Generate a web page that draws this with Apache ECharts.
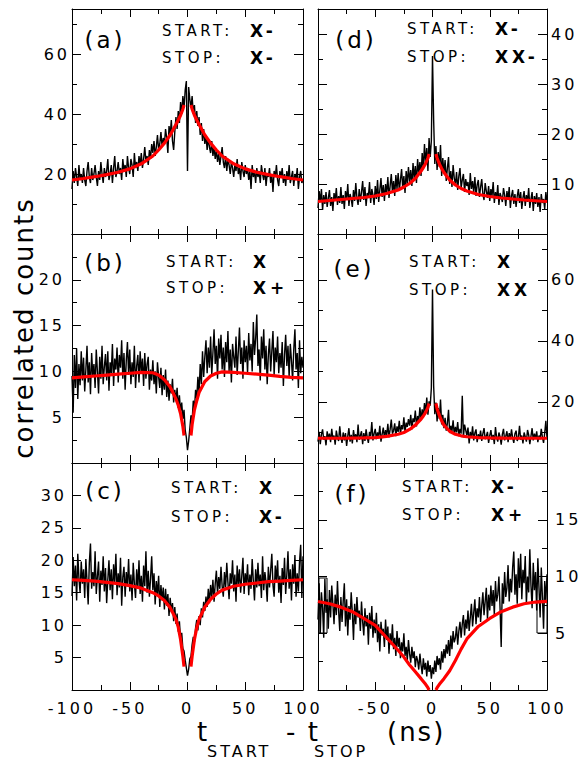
<!DOCTYPE html>
<html>
<head>
<meta charset="utf-8">
<title>correlated counts</title>
<script src="https://cdn.jsdelivr.net/npm/echarts@6.0.0/dist/echarts.min.js"></script>
<style>
  html, body { margin: 0; padding: 0; background: #fff; }
  #chart { width: 580px; height: 762px; }
  /* the original export uses a very wide face, spacing the glyphs out comes closest */
  #chart text { letter-spacing: 3px; }
  #chart text[style*="15px"] { letter-spacing: 3.5px; }
  #chart text[style*="17px"] { letter-spacing: 4px; }
  #chart text[style*="26px"] { letter-spacing: 2px; }
</style>
</head>
<body>
<div id="chart"></div>
<script>
// histogram bins: 1 ns wide, first bin at -100 ns
const binStart = -100

// (a) START X-, STOP X-
const countsA = [
  15, 21, 17, 22, 19, 16, 23, 18, 20, 17,
  22, 18, 16, 21, 24, 19, 17, 22, 18, 20,
  23, 19, 16, 21, 18, 24, 20, 17, 22, 19,
  21, 25, 18, 20, 23, 17, 22, 26, 19, 21,
  24, 20, 22, 18, 25, 21, 23, 19, 26, 22,
  20, 25, 23, 19, 27, 22, 24, 21, 26, 23,
  27, 22, 25, 29, 24, 26, 23, 28, 25, 30,
  27, 31, 26, 29, 33, 28, 30, 34, 29, 32,
  30, 35, 32, 27, 36, 33, 38, 31, 28, 34,
  39, 35, 41, 37, 44, 40, 46, 42, 48, 51,
  21,
  49, 45, 42, 46, 40, 43, 37, 41, 36, 39,
  33, 37, 31, 35, 30, 33, 28, 32, 29, 27,
  31, 26, 29, 25, 28, 24, 27, 23, 26, 29,
  24, 22, 26, 21, 25, 23, 20, 24, 22, 19,
  23, 21, 25, 20, 22, 18, 24, 21, 19, 23,
  20, 22, 18, 21, 15, 23, 19, 21, 17, 22,
  19, 21, 17, 23, 20, 18, 22, 16, 20, 19,
  22, 17, 20, 14, 21, 19, 23, 18, 16, 21,
  19, 22, 17, 20, 16, 21, 18, 23, 17, 19,
  21, 16, 20, 18, 22, 15, 19, 21, 17, 18,
]

// (b) START X, STOP X+
const countsB = [
  9.5, 5.5, 11.8, 8.2, 12.5, 7.0, 10.8, 8.5, 12.2, 9.0,
  11.5, 7.8, 10.2, 12.8, 8.8, 11.0, 7.5, 12.0, 9.5, 10.8,
  8.2, 12.4, 10.0, 7.6, 11.6, 9.2, 12.8, 8.6, 10.5, 11.9,
  9.0, 12.2, 7.9, 11.0, 9.8, 13.0, 8.4, 11.4, 10.2, 12.6,
  8.8, 11.8, 10.4, 13.4, 9.2, 12.0, 8.0, 11.2, 13.2, 9.6,
  12.4, 8.6, 11.0, 9.4, 12.8, 8.2, 10.6, 11.8, 8.8, 12.2,
  9.8, 11.4, 8.4, 12.0, 9.2, 10.8, 11.6, 8.0, 10.2, 9.0,
  11.2, 8.6, 10.0, 7.6, 11.0, 9.4, 8.2, 10.4, 7.4, 9.6,
  8.0, 10.2, 7.2, 9.0, 6.8, 8.6, 7.6, 9.2, 6.6, 8.0,
  6.8, 8.2, 6.0, 7.4, 5.6, 6.6, 4.8, 5.8, 3.6, 2.8,
  1.4,
  2.4, 3.8, 5.2, 4.6, 6.8, 5.8, 8.0, 7.0, 9.4, 7.6,
  10.8, 8.6, 12.2, 9.4, 11.6, 13.4, 9.8, 12.6, 10.4, 13.8,
  9.6, 12.0, 14.6, 10.8, 12.8, 9.2, 13.6, 11.4, 14.0, 10.2,
  12.6, 9.4, 13.2, 11.0, 14.4, 10.0, 12.4, 8.8, 13.0, 11.6,
  10.4, 13.8, 9.6, 12.2, 14.8, 10.8, 12.6, 9.2, 13.4, 11.0,
  12.8, 9.8, 14.2, 11.2, 13.0, 10.0, 15.4, 11.8, 13.6, 16.2,
  10.6, 12.4, 9.0, 13.8, 11.4, 14.6, 10.2, 12.8, 8.6, 11.8,
  13.6, 10.0, 12.2, 14.4, 9.6, 12.6, 11.0, 13.8, 9.8, 12.0,
  10.4, 13.2, 8.4, 11.8, 14.0, 10.6, 12.8, 9.4, 13.0, 11.2,
  9.0, 12.4, 14.6, 10.2, 12.0, 8.2, 13.4, 9.8, 11.6, 10.4,
]

// (c) START X, STOP X-
const countsC = [
  14.5, 20.5, 16.0, 19.2, 13.8, 21.0, 17.2, 15.0, 19.8, 16.4,
  18.6, 14.2, 20.2, 16.8, 13.2, 19.6, 22.6, 15.6, 18.2, 16.0,
  21.4, 14.8, 17.6, 19.8, 13.6, 18.4, 16.2, 20.6, 15.2, 18.8,
  13.4, 17.0, 20.0, 15.4, 18.6, 14.0, 19.4, 16.6, 21.0, 14.6,
  18.0, 15.8, 20.4, 13.0, 17.4, 19.0, 14.4, 18.2, 16.0, 20.2,
  15.2, 17.8, 13.8, 19.6, 16.4, 14.2, 18.6, 15.6, 20.0, 14.8,
  17.6, 13.6, 19.2, 16.0, 21.4, 15.0, 18.4, 14.4, 17.2, 20.6,
  15.4, 18.0, 13.2, 16.8, 14.6, 17.6, 12.8, 16.2, 13.8, 15.8,
  12.4, 15.6, 13.0, 14.8, 11.4, 14.2, 12.0, 13.4, 10.6, 12.8,
  10.2, 11.8, 9.0, 10.6, 7.8, 8.8, 6.4, 6.0, 4.6, 3.4,
  2.2,
  3.2, 4.8, 5.2, 7.0, 8.2, 7.4, 9.6, 10.8, 9.2, 11.4,
  10.0, 12.6, 11.2, 13.6, 12.2, 14.4, 12.8, 15.6, 13.4, 16.2,
  14.2, 17.0, 13.6, 16.4, 18.4, 14.8, 17.4, 15.6, 19.0, 16.0,
  14.4, 18.2, 15.8, 19.6, 16.6, 14.0, 18.0, 16.4, 20.0, 15.2,
  17.8, 13.6, 19.2, 16.2, 18.6, 15.0, 17.6, 20.4, 14.8, 18.0,
  16.4, 19.4, 14.6, 17.8, 15.6, 20.2, 16.8, 13.8, 18.6, 15.8,
  19.6, 16.0, 17.8, 14.2, 20.6, 15.4, 18.2, 16.6, 13.6, 19.0,
  15.8, 18.4, 21.0, 16.2, 14.4, 19.2, 16.8, 20.0, 15.0, 17.6,
  13.4, 18.8, 16.2, 20.4, 14.8, 17.8, 21.4, 15.6, 18.6, 13.8,
  19.4, 16.4, 20.8, 14.4, 18.0, 15.2, 19.8, 22.4, 14.2, 20.6,
]

// (d) START X-, STOP XX-
const countsD = [
  5.2, 8.6, 6.4, 9.0, 4.8, 7.8, 6.0, 8.4, 5.4, 7.2,
  8.8, 5.6, 7.4, 4.6, 8.2, 6.6, 9.2, 5.8, 7.6, 6.2,
  9.4, 6.0, 7.8, 5.0, 8.6, 6.8, 10.0, 5.6, 8.0, 7.0,
  5.4, 8.8, 6.6, 10.2, 7.2, 5.8, 9.0, 6.4, 8.4, 10.6,
  6.8, 9.4, 5.6, 8.2, 7.4, 10.4, 6.2, 9.0, 7.8, 5.8,
  9.6, 7.0, 10.8, 6.4, 8.8, 11.2, 7.4, 9.8, 6.6, 10.0,
  8.0, 11.4, 7.2, 9.6, 12.0, 8.4, 10.6, 7.6, 11.8, 9.0,
  12.2, 8.6, 10.8, 13.0, 9.2, 11.6, 8.2, 12.6, 10.0, 13.4,
  10.4, 12.8, 9.6, 14.2, 11.0, 13.6, 10.2, 15.0, 12.0, 14.4,
  11.6, 16.2, 13.0, 18.0, 14.0, 17.2, 12.6, 19.2, 15.4, 18.6,
  35.6,
  22.8, 14.0, 17.6, 12.8, 16.4, 13.4, 17.8, 11.6, 15.2, 12.0,
  14.8, 10.6, 13.2, 15.4, 10.0, 12.6, 9.4, 13.8, 11.2, 9.8,
  12.4, 8.8, 11.6, 13.2, 9.2, 10.8, 12.0, 8.4, 11.0, 9.6,
  10.4, 7.8, 12.2, 9.0, 10.6, 8.2, 11.4, 7.6, 9.8, 10.8,
  7.4, 9.4, 11.0, 8.0, 6.8, 10.2, 8.6, 7.2, 9.6, 6.6,
  9.0, 7.6, 10.4, 6.2, 8.4, 7.0, 9.8, 5.8, 8.2, 7.4,
  6.4, 9.2, 7.8, 5.6, 8.6, 6.8, 9.4, 5.2, 7.6, 8.8,
  6.0, 8.0, 5.4, 7.6, 9.0, 6.2, 8.4, 5.0, 7.2, 8.6,
  5.6, 7.8, 6.4, 9.2, 5.2, 7.0, 8.4, 4.6, 7.6, 6.0,
  8.2, 5.4, 7.4, 4.4, 8.0, 6.2, 7.0, 5.0, 8.4, 6.4,
]

// (e) START X, STOP XX
const countsE = [
  7.0, 10.2, 6.2, 9.4, 11.0, 7.6, 8.8, 5.8, 10.4, 8.0,
  9.6, 6.8, 11.2, 7.8, 9.0, 6.0, 10.6, 8.4, 7.2, 12.0,
  8.2, 6.6, 10.0, 7.4, 9.8, 5.6, 8.8, 11.4, 7.0, 9.2,
  6.4, 10.8, 8.0, 9.4, 6.8, 12.6, 7.6, 9.0, 10.4, 6.2,
  9.8, 7.2, 11.0, 8.4, 6.6, 10.2, 8.8, 13.4, 7.4, 9.6,
  11.2, 7.8, 10.0, 8.6, 12.2, 7.0, 9.4, 11.6, 8.2, 10.8,
  9.0, 12.8, 8.4, 11.0, 14.2, 9.6, 10.6, 13.0, 8.8, 12.0,
  10.2, 13.8, 9.4, 12.4, 11.0, 15.0, 10.0, 13.2, 11.8, 14.4,
  12.2, 15.8, 11.0, 14.6, 13.4, 17.2, 12.0, 15.4, 13.6, 18.2,
  14.0, 17.6, 15.2, 19.6, 16.4, 21.4, 15.8, 20.2, 18.8, 24.6,
  56.8,
  25.2, 16.0, 19.8, 13.6, 18.0, 14.4, 20.8, 12.6, 15.8, 11.4,
  14.8, 10.6, 13.0, 17.4, 9.8, 12.2, 10.4, 14.0, 9.2, 11.8,
  10.0, 13.4, 8.8, 11.2, 9.6, 22.0, 8.4, 12.6, 10.8, 9.0,
  11.6, 6.4, 10.2, 8.2, 12.0, 7.4, 9.8, 11.0, 6.8, 9.4,
  8.0, 10.6, 7.2, 9.6, 11.4, 7.8, 8.8, 10.2, 6.6, 9.0,
  10.8, 7.6, 9.2, 6.2, 11.8, 8.4, 7.0, 10.0, 8.6, 6.0,
  9.4, 11.2, 7.4, 8.8, 10.4, 6.8, 9.8, 7.8, 11.0, 8.2,
  6.6, 9.6, 10.6, 7.2, 8.4, 12.2, 7.6, 9.0, 6.4, 10.0,
  8.6, 7.0, 10.8, 9.2, 6.2, 8.8, 11.4, 7.4, 9.6, 8.0,
  10.4, 6.8, 9.0, 7.8, 11.2, 8.4, 6.6, 9.8, 13.8, 8.2,
]

// (f) START X-, STOP X+
const countsF = [
  6.2, 9.4, 5.0, 8.6, 7.2, 4.6, 9.8, 6.8, 8.0, 5.4,
  8.8, 6.4, 9.2, 7.6, 5.8, 8.4, 6.6, 9.6, 7.0, 5.2,
  8.2, 6.0, 7.8, 9.4, 5.6, 8.0, 4.8, 7.4, 6.2, 8.6,
  6.8, 4.4, 7.6, 5.8, 8.2, 6.4, 7.0, 5.2, 7.8, 6.0,
  4.8, 7.2, 5.6, 6.6, 4.0, 6.8, 5.4, 7.4, 4.6, 6.2,
  5.0, 6.8, 4.2, 5.8, 3.4, 6.0, 4.8, 5.4, 3.8, 6.2,
  4.4, 5.6, 3.2, 5.0, 4.0, 5.8, 3.6, 4.6, 3.0, 5.2,
  3.8, 4.6, 2.8, 4.2, 3.4, 5.0, 3.0, 3.8, 2.6, 4.4,
  3.2, 2.4, 3.8, 2.8, 3.4, 2.0, 3.0, 2.6, 1.8, 3.2,
  2.2, 1.4, 2.8, 1.8, 2.4, 1.2, 2.6, 1.6, 2.2, 1.0,
  2.0,
  1.4, 2.6, 1.6, 3.0, 2.2, 2.8, 1.8, 3.4, 2.4, 3.6,
  2.8, 4.0, 3.2, 4.4, 3.0, 4.8, 3.6, 5.2, 4.2, 4.6,
  5.6, 4.0, 5.2, 6.0, 4.6, 5.8, 6.6, 4.8, 6.2, 5.4,
  7.0, 5.2, 6.4, 7.6, 5.6, 6.8, 8.0, 5.8, 7.2, 6.4,
  8.2, 6.0, 7.4, 8.6, 6.6, 7.8, 9.0, 6.2, 8.4, 7.0,
  9.2, 7.4, 8.8, 6.6, 9.6, 7.8, 8.4, 10.0, 7.2, 3.8,
  9.4, 7.6, 10.4, 8.2, 9.0, 11.0, 7.8, 9.8, 8.6, 10.8,
  12.2, 8.4, 10.2, 7.6, 11.6, 9.0, 12.0, 8.0, 10.6, 9.4,
  11.8, 7.6, 10.0, 8.6, 12.4, 9.2, 7.2, 11.2, 8.8, 10.4,
  7.0, 11.6, 9.0, 6.4, 10.8, 8.2, 5.4, 9.6, 7.8, 10.2,
]

// fitted curves, sampled at fitTimes; null leaves the gap at zero delay
const fitTimes = [-100, -90, -80, -70, -60, -50, -40, -30, -25, -20, -15, -10, -8, -6, -4, -3, 0,
  3, 4, 6, 8, 10, 15, 20, 25, 30, 40, 50, 60, 70, 80, 90, 100]
const fitA = [18.0, 18.5, 19.1, 19.8, 20.6, 21.7, 23.4, 26.0, 28.0, 30.3, 33.0, 36.5, 38.0, 39.6, 41.6, 43.0, null,
  43.0, 41.6, 39.6, 38.0, 36.5, 33.0, 30.3, 28.0, 26.0, 23.4, 21.7, 20.6, 19.8, 19.1, 18.5, 18.0]
const fitB = [9.3, 9.4, 9.5, 9.6, 9.7, 9.8, 9.9, 9.85, 9.6, 9.1, 8.3, 7.0, 6.3, 5.4, 4.0, 3.0, null,
  3.0, 4.2, 5.8, 6.8, 7.7, 8.9, 9.5, 9.8, 9.95, 9.9, 9.8, 9.7, 9.6, 9.45, 9.35, 9.3]
const fitC = [17.0, 16.9, 16.8, 16.6, 16.4, 16.1, 15.7, 15.0, 14.5, 13.8, 12.7, 10.9, 9.7, 7.8, 5.2, 3.6, null,
  3.6, 5.2, 7.8, 9.6, 10.9, 12.8, 14.0, 14.8, 15.4, 16.0, 16.3, 16.5, 16.7, 16.8, 16.9, 17.0]
const fitD = [6.5, 6.7, 6.9, 7.1, 7.3, 7.6, 8.1, 8.8, 9.4, 10.1, 11.1, 12.6, 13.3, 14.1, 15.2, 16.0, null,
  16.0, 15.2, 14.0, 13.1, 12.3, 10.8, 9.8, 9.1, 8.6, 7.9, 7.5, 7.2, 7.0, 6.8, 6.65, 6.5]
const fitE = [8.1, 8.1, 8.1, 8.15, 8.2, 8.3, 8.7, 9.4, 10.0, 11.0, 12.4, 14.4, 15.4, 16.6, 18.2, 19.5, null,
  19.5, 17.8, 15.6, 13.8, 12.4, 10.4, 9.4, 8.9, 8.6, 8.3, 8.2, 8.15, 8.1, 8.1, 8.1, 8.1]
const fitF = [7.8, 7.6, 7.3, 6.9, 6.3, 5.7, 4.6, 3.5, 2.9, 2.2, 1.6, 1.0, 0.75, 0.5, 0.2, 0, null,
  0, 0.2, 0.5, 0.75, 1.0, 1.7, 2.6, 3.6, 4.5, 5.6, 6.3, 6.9, 7.3, 7.6, 7.75, 7.8]

// tick labels
const xLabelsLeft = [-100, -50, 0, 50, 100]
const xLabelsRight = [-50, 0, 50, 100]
const yLabelsA = [20, 40, 60]
const yLabelsB = [5, 10, 15, 20]
const yLabelsC = [5, 10, 15, 20, 25, 30]
const yLabelsD = [10, 20, 30, 40]
const yLabelsE = [20, 40, 60]
const yLabelsF = [5, 10, 15]

// panel text
const panelTags = ['(a)', '(b)', '(c)', '(d)', '(e)', '(f)']
const startStates = ['X-', 'X', 'X', 'X-', 'X', 'X-']
const stopStates = ['X-', 'X+', 'X-', 'XX-', 'XX', 'X+']

// layout
const colLeft = [72, 318]
const colWidth = [231, 229]
const rowTop = [9, 234, 463]
const rowHeight = [225, 229, 227]
const FONT = 'DejaVu Sans'

const panels = [
  { counts: countsA, fit: fitA, yMax: 75, yStep: 20, yMinor: 2, yLabels: yLabelsA, col: 0, row: 0, gap: 2, tag: [105, 40], note: [162, 31, 58, 250] },
  { counts: countsB, fit: fitB, yMax: 25, yStep: 5, yMinor: 2, yLabels: yLabelsB, col: 0, row: 1, gap: 7, tag: [105, 263], note: [166, 262, 288, 253] },
  { counts: countsC, fit: fitC, yMax: 35, yStep: 5, yMinor: 1, yLabels: yLabelsC, col: 0, row: 2, gap: 5, tag: [105, 491], note: [171, 488, 517, 259] },
  { counts: countsD, fit: fitD, yMax: 45, yStep: 10, yMinor: 2, yLabels: yLabelsD, col: 1, row: 0, gap: 4, tag: [356, 40], note: [407, 29, 57, 495] },
  { counts: countsE, fit: fitE, yMax: 75, yStep: 20, yMinor: 2, yLabels: yLabelsE, col: 1, row: 1, gap: 4, tag: [354, 269], note: [409, 262, 290, 497] },
  { counts: countsF, fit: fitF, yMax: 20, yStep: 5, yMinor: 2, yLabels: yLabelsF, col: 1, row: 2, gap: 8, tag: [352, 494], note: [402, 487, 515, 491] },
]

const black = '#000'
const lineStyle = { color: black, width: 1 }

function makeX(gridIndex, position, labels) {
  return {
    type: 'value',
    gridIndex,
    position,
    min: -100,
    max: 100,
    interval: 50,
    axisLine: { show: true, onZero: false, lineStyle },
    axisTick: { show: true, inside: true, length: 8, lineStyle },
    minorTick: { show: true, splitNumber: 2, length: 5, lineStyle },
    splitLine: { show: false },
    minorSplitLine: { show: false },
    axisLabel: {
      show: !!labels,
      margin: 10,
      color: black,
      fontSize: 16,
      fontFamily: FONT,
      formatter: v => (labels && labels.includes(v) ? String(v) : ''),
    },
  }
}

function makeY(gridIndex, p, position, showLabels) {
  return {
    type: 'value',
    gridIndex,
    position,
    min: 0,
    max: p.yMax,
    interval: p.yStep,
    axisLine: { show: true, onZero: false, lineStyle },
    axisTick: { show: true, inside: true, length: 9, lineStyle },
    minorTick: { show: p.yMinor > 1, splitNumber: p.yMinor, length: 5, lineStyle },
    splitLine: { show: false },
    minorSplitLine: { show: false },
    axisLabel: {
      show: showLabels,
      margin: p.gap,
      color: black,
      fontSize: 16,
      fontFamily: FONT,
      formatter: v => (p.yLabels.includes(v) ? String(v) : ''),
    },
  }
}

function label(text, x, y, size, opts = {}) {
  return {
    type: 'text',
    x,
    y,
    rotation: opts.rotation || 0,
    silent: true,
    style: {
      text,
      fill: black,
      fontSize: size,
      fontFamily: FONT,
      fontWeight: opts.bold ? 'bold' : 'normal',
      align: opts.align || 'left',
      verticalAlign: 'middle',
      textAlign: opts.align || 'left',
      textVerticalAlign: 'middle',
    },
  }
}

const grid = []
const xAxis = []
const yAxis = []
const series = []
const graphic = []

panels.forEach((p, i) => {
  grid.push({
    left: colLeft[p.col],
    top: rowTop[p.row],
    width: colWidth[p.col],
    height: rowHeight[p.row],
    outerBoundsMode: 'none',
  })
  const bottomLabels = p.row === 2 ? (p.col === 0 ? xLabelsLeft : xLabelsRight) : null
  xAxis.push(makeX(i, 'bottom', bottomLabels))
  xAxis.push(makeX(i, 'top', null))
  yAxis.push(makeY(i, p, 'left', p.col === 0))
  yAxis.push(makeY(i, p, 'right', p.col === 1))

  // measured histogram
  series.push({
    type: 'line',
    xAxisIndex: 2 * i,
    yAxisIndex: 2 * i,
    data: p.counts.map((v, k) => [binStart + k, v]),
    showSymbol: false,
    silent: true,
    lineStyle: { color: black, width: 1.4 },
    z: 2,
  })
  // fit
  series.push({
    type: 'line',
    xAxisIndex: 2 * i,
    yAxisIndex: 2 * i,
    data: fitTimes.map((t, k) => [t, p.fit[k] == null ? '-' : p.fit[k]]),
    showSymbol: false,
    connectNulls: false,
    silent: true,
    lineStyle: { color: '#ff0000', width: 3.2 },
    z: 3,
  })

  graphic.push(label(panelTags[i], p.tag[0], p.tag[1], 23, { align: 'center' }))
  graphic.push(label('START:', p.note[0], p.note[1], 15))
  graphic.push(label('STOP:', p.note[0], p.note[2], 15))
  graphic.push(label(startStates[i], p.note[3], p.note[1], 17, { bold: true }))
  graphic.push(label(stopStates[i], p.note[3], p.note[2], 17, { bold: true }))
})

// axis titles
graphic.push(label('correlated counts', 24, 328, 26, { align: 'center', rotation: Math.PI / 2 }))
graphic.push(label('t', 197, 732, 26))
graphic.push(label('START', 207, 751, 16))
graphic.push(label('- t', 286, 732, 26))
graphic.push(label('STOP', 314, 751, 16))
graphic.push(label('(ns)', 387, 732, 26))

// the two stray boxes on the edges of panel (f)
graphic.push({ type: 'rect', silent: true, shape: { x: 319, y: 578, width: 8, height: 55 }, style: { fill: 'none', stroke: black, lineWidth: 1 } })
graphic.push({ type: 'rect', silent: true, shape: { x: 537, y: 601, width: 10, height: 32 }, style: { fill: 'none', stroke: black, lineWidth: 1 } })

const chart = echarts.init(document.getElementById('chart'), null, { renderer: 'svg' })
chart.setOption({
  animation: false,
  backgroundColor: '#fff',
  grid,
  xAxis,
  yAxis,
  series,
  graphic,
})
</script>
</body>
</html>
